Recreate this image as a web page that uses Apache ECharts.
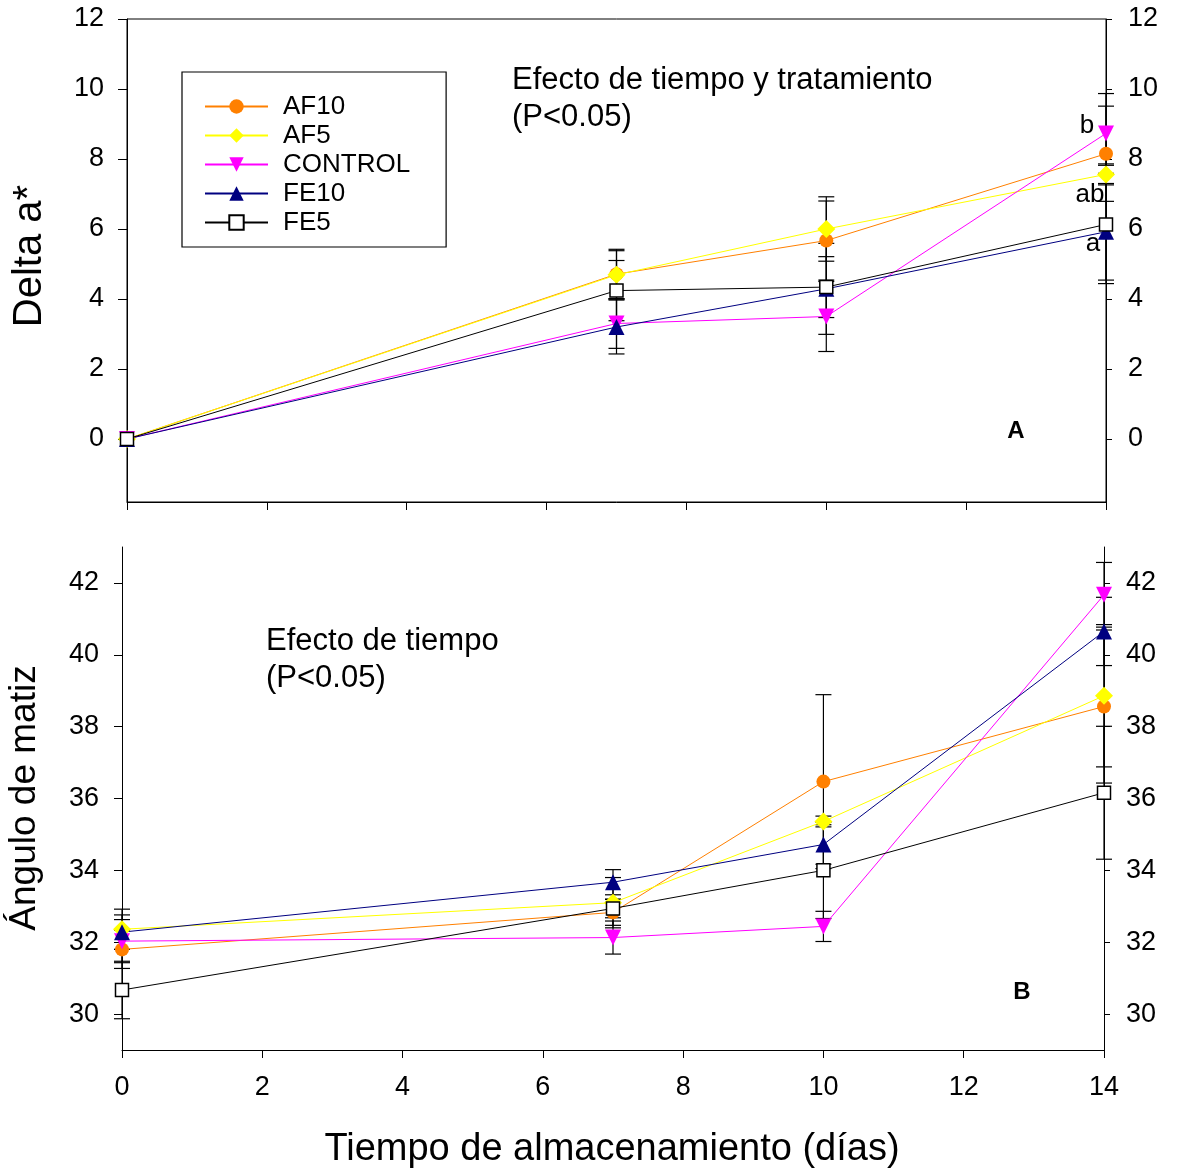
<!DOCTYPE html>
<html>
<head>
<meta charset="utf-8">
<script src="https://cdn.jsdelivr.net/npm/echarts@6/dist/echarts.min.js"></script>
<style>
html,body{margin:0;padding:0;background:#fff;}
#chart{width:1182px;height:1173px;}
</style>
</head>
<body>
<div id="chart"></div>
<script>
// ---- data ----
var days = [0, 7, 10, 14];
var seriesNames = ['AF10', 'AF5', 'CONTROL', 'FE10', 'FE5'];

// Panel A: Delta a*
var af10A = [0, 4.71, 5.67, 8.15];
var af10AErr = [0, 0.71, 1.13, 1.36];
var af5A = [0, 4.69, 6.00, 7.56];
var af5AErr = [0, 0.69, 0.92, 0.30];
var controlA = [0, 3.30, 3.50, 8.73];
var controlAErr = [0, 0.71, 1.00, 1.14];
var fe10A = [0, 3.20, 4.29, 5.92];
var fe10AErr = [0, 0.77, 1.30, 1.38];
var fe5A = [0, 4.24, 4.34, 6.13];
var fe5AErr = [0, 0.86, 0.87, 1.69];

// Panel B: Angulo de matiz
var af10B = [31.80, 32.83, 36.47, 38.56];
var af10BErr = [0.53, 0.36, 2.42, 2.13];
var af5B = [32.36, 33.10, 35.36, 38.86];
var af5BErr = [0.56, 0.70, 0.15, 1.98];
var controlB = [32.03, 32.13, 32.44, 41.67];
var controlBErr = [0.60, 0.46, 0.42, 0.90];
var fe10B = [32.28, 33.67, 34.72, 40.65];
var fe10BErr = [0.48, 0.35, 0.55, 0.95];
var fe5B = [30.67, 32.94, 34.00, 36.16];
var fe5BErr = [0.80, 0.26, 1.34, 1.85];

var xTicks = [0, 2, 4, 6, 8, 10, 12, 14];
var yTicksA = [0, 2, 4, 6, 8, 10, 12];
var yTicksB = [30, 32, 34, 36, 38, 40, 42];

// ---- styles ----
var FONT = 'Liberation Sans, Arial, sans-serif';
var styles = {
  'AF10':    {color: '#FF8000', symbol: 'circle',   size: 14, rotate: 0,   fill: '#FF8000', border: '#FF8000', bw: 0},
  'AF5':     {color: '#FFFF00', symbol: 'diamond',  size: 18, rotate: 0,   fill: '#FFFF00', border: '#FFFF00', bw: 0},
  'CONTROL': {color: '#FF00FF', symbol: 'triangle', size: 16, rotate: 180, fill: '#FF00FF', border: '#FF00FF', bw: 0},
  'FE10':    {color: '#000080', symbol: 'triangle', size: 16, rotate: 0,   fill: '#000080', border: '#000080', bw: 0},
  'FE5':     {color: '#000000', symbol: 'rect',     size: 13, rotate: 0,   fill: '#FFFFFF', border: '#000000', bw: 1.5}
};
var panelA = {'AF10': [af10A, af10AErr], 'AF5': [af5A, af5AErr], 'CONTROL': [controlA, controlAErr], 'FE10': [fe10A, fe10AErr], 'FE5': [fe5A, fe5AErr]};
var panelB = {'AF10': [af10B, af10BErr], 'AF5': [af5B, af5BErr], 'CONTROL': [controlB, controlBErr], 'FE10': [fe10B, fe10BErr], 'FE5': [fe5B, fe5BErr]};

function errRender(params, api) {
  var x = api.value(0), lo = api.value(1), hi = api.value(2);
  if (hi - lo <= 0) return null;
  var pLo = api.coord([x, lo]), pHi = api.coord([x, hi]);
  var w = 8;
  var st = {stroke: '#000', lineWidth: 1.2};
  return {type: 'group', children: [
    {type: 'line', shape: {x1: pLo[0], y1: pLo[1], x2: pHi[0], y2: pHi[1]}, style: st},
    {type: 'line', shape: {x1: pHi[0] - w, y1: pHi[1], x2: pHi[0] + w, y2: pHi[1]}, style: st},
    {type: 'line', shape: {x1: pLo[0] - w, y1: pLo[1], x2: pLo[0] + w, y2: pLo[1]}, style: st}
  ]};
}

var series = [];
function addPanel(panel, gi) {
  seriesNames.forEach(function (name) {
    var vals = panel[name][0], errs = panel[name][1], s = styles[name];
    series.push({
      type: 'custom', name: name + '_err', xAxisIndex: gi, yAxisIndex: gi * 2,
      renderItem: errRender, encode: {x: 0, y: [1, 2]}, silent: true, clip: false,
      data: days.map(function (d, i) { return [d, vals[i] - errs[i], vals[i] + errs[i]]; })
    });
    series.push({
      type: 'line', name: name, xAxisIndex: gi, yAxisIndex: gi * 2,
      data: days.map(function (d, i) { return [d, vals[i]]; }),
      symbol: s.symbol, symbolSize: s.size, symbolRotate: s.rotate, showAllSymbol: true,
      lineStyle: {color: s.color, width: 1},
      itemStyle: {color: s.fill, borderColor: s.border, borderWidth: s.bw, opacity: 1},
      emphasis: {disabled: true}, animation: false, clip: false
    });
  });
}
addPanel(panelA, 0);
addPanel(panelB, 1);

var axisLineStyle = {show: true, onZero: false, lineStyle: {color: '#000', width: 1}};
var labelStyle = {color: '#000', fontSize: 27, fontFamily: FONT};

function xAxisDef(gi, showLabel) {
  return {
    type: 'value', gridIndex: gi, min: 0, max: 14, interval: 2,
    axisLine: axisLineStyle,
    axisTick: {show: true, inside: false, length: 8, lineStyle: {color: '#000'}},
    axisLabel: Object.assign({show: showLabel, margin: 24}, labelStyle),
    splitLine: {show: false}
  };
}
function yAxisDef(gi, pos, min, max, ticks, tickLen) {
  return {
    type: 'value', gridIndex: gi, position: pos, min: min, max: max,
    axisLine: axisLineStyle,
    axisTick: {show: true, inside: false, length: tickLen, customValues: ticks, lineStyle: {color: '#000'}},
    axisLabel: Object.assign({show: true, margin: pos === 'left' ? 23 : 22, customValues: ticks}, labelStyle),
    splitLine: {show: false}
  };
}

var option = {
  backgroundColor: '#fff',
  animation: false,
  textStyle: {fontFamily: FONT},
  grid: [
    {left: 127, top: 19, width: 979, height: 483, show: true, borderColor: '#000', borderWidth: 1, backgroundColor: 'transparent'},
    {left: 122, top: 547, width: 982, height: 503, show: false}
  ],
  xAxis: [xAxisDef(0, false), xAxisDef(1, true)],
  yAxis: [
    yAxisDef(0, 'left', -1.8, 12, yTicksA, 9),
    yAxisDef(0, 'right', -1.8, 12, yTicksA, 6),
    yAxisDef(1, 'left', 29, 43, yTicksB, 8),
    yAxisDef(1, 'right', 29, 43, yTicksB, 6)
  ],
  legend: {
    show: true, orient: 'vertical', left: 182, top: 72,
    data: seriesNames,
    itemWidth: 63, itemHeight: 18, itemGap: 0,
    borderColor: '#000', borderWidth: 1.2,
    padding: [20, 36, 10, 22],
    selectedMode: false,
    textStyle: {color: '#000', fontSize: 26, fontFamily: FONT, lineHeight: 29, padding: [0, 0, 0, 10]}
  },
  graphic: [
    {type: 'text', x: 30, y: 256, rotation: Math.PI / 2, style: {text: 'Delta a*', fontSize: 40, fontFamily: FONT, fill: '#000', align: 'center', verticalAlign: 'middle'}},
    {type: 'text', x: 25, y: 798, rotation: Math.PI / 2, style: {text: 'Ángulo de matiz', fontSize: 37, fontFamily: FONT, fill: '#000', align: 'center', verticalAlign: 'middle'}},
    {type: 'text', x: 612, y: 1150, style: {text: 'Tiempo de almacenamiento (días)', fontSize: 38, fontFamily: FONT, fill: '#000', align: 'center', verticalAlign: 'middle'}},
    {type: 'text', x: 512, y: 62, style: {text: 'Efecto de tiempo y tratamiento\n(P<0.05)', fontSize: 31, lineHeight: 37, fontFamily: FONT, fill: '#000', align: 'left', verticalAlign: 'top'}},
    {type: 'text', x: 266, y: 623, style: {text: 'Efecto de tiempo\n(P<0.05)', fontSize: 31, lineHeight: 37, fontFamily: FONT, fill: '#000', align: 'left', verticalAlign: 'top'}},
    {type: 'text', x: 1016, y: 431, style: {text: 'A', fontSize: 24, fontWeight: 'bold', fontFamily: FONT, fill: '#000', align: 'center', verticalAlign: 'middle'}},
    {type: 'text', x: 1022, y: 992, style: {text: 'B', fontSize: 24, fontWeight: 'bold', fontFamily: FONT, fill: '#000', align: 'center', verticalAlign: 'middle'}},
    {type: 'text', x: 1087, y: 126, style: {text: 'b', fontSize: 26, fontFamily: FONT, fill: '#000', align: 'center', verticalAlign: 'middle'}},
    {type: 'text', x: 1090, y: 195, style: {text: 'ab', fontSize: 26, fontFamily: FONT, fill: '#000', align: 'center', verticalAlign: 'middle'}},
    {type: 'text', x: 1093, y: 244, style: {text: 'a', fontSize: 26, fontFamily: FONT, fill: '#000', align: 'center', verticalAlign: 'middle'}}
  ],
  series: series
};

var chart = echarts.init(document.getElementById('chart'), null, {renderer: 'canvas'});
chart.setOption(option);
</script>
</body>
</html>
